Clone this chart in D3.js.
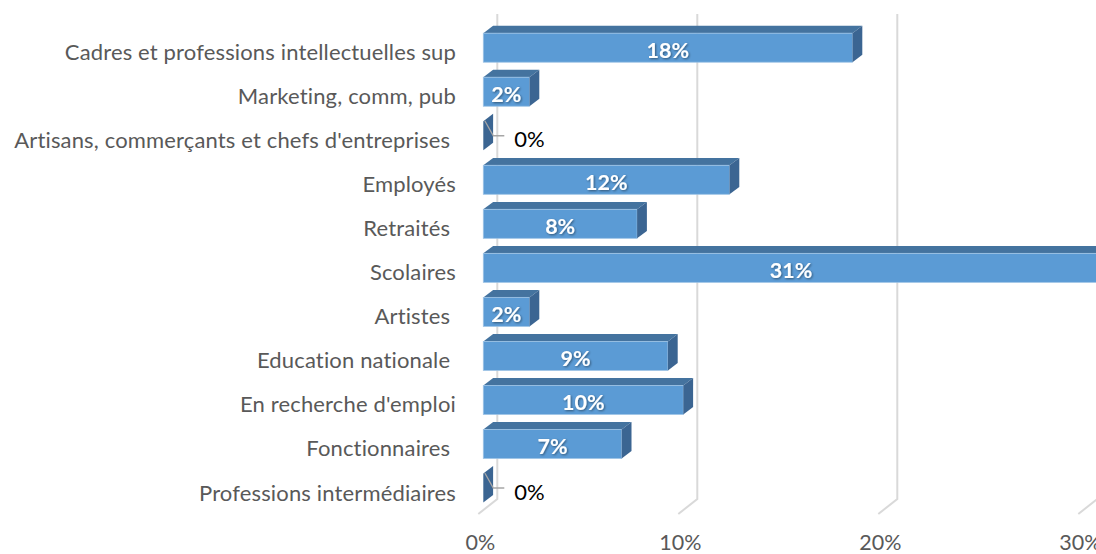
<!DOCTYPE html>
<html><head><meta charset="utf-8">
<script src="https://cdn.jsdelivr.net/npm/d3@7"></script>
<style>body{margin:0;background:#fff}svg{display:block}text{font-family:Lato,"Open Sans",sans-serif}</style>
</head><body>
<script>
const categories = [
  "Cadres et professions intellectuelles sup",
  "Marketing, comm, pub",
  "Artisans, commerçants et chefs d'entreprises ",
  "Employés",
  "Retraités ",
  "Scolaires",
  "Artistes ",
  "Education nationale ",
  "En recherche d'emploi",
  "Fonctionnaires ",
  "Professions intermédiaires"
];
const values = [18.46, 2.31, 0, 12.31, 7.69, 30.77, 2.31, 9.23, 10.0, 6.92, 0];
const dataLabels = ["18%","2%","0%","12%","8%","31%","2%","9%","10%","7%","0%"];
const tickValues = [0, 10, 20, 30];
const tickLabels = ["0%","10%","20%","30%"];

const W = 1096, H = 554;
const svg = d3.select("body").append("svg").attr("width", W).attr("height", H);

const x = d3.scaleLinear().domain([0, 30]).range([483.3, 1083.3]);
const y = d3.scalePoint().domain(categories).range([47.7, 488]);
const faceH = 29, dx = 9.8, dy = -7.4;
const wallDX = 14, wallTop = 14, wallBottom = 499, floorDX = -19, floorDY = 15;

// gridlines (back wall + floor)
const grid = svg.append("g");
tickValues.forEach(v => {
  const gx = x(v) + wallDX;
  grid.append("path")
    .attr("d", `M${gx},${wallTop}L${gx},${wallBottom}L${gx + floorDX},${wallBottom + floorDY}`)
    .attr("fill", "none").attr("stroke", "#d9d9d9").attr("stroke-width", 2);
});

// tick labels
svg.append("g").selectAll("text").data(tickValues).join("text")
  .attr("x", (d) => x(d) - 3).attr("y", 542)
  .attr("text-anchor", "middle").attr("dominant-baseline", "central")
  .attr("fill", "#595959").attr("font-size", 21.5)
  .text((d, i) => tickLabels[i]);

// category labels
svg.append("g").selectAll("text").data(categories).join("text")
  .attr("x", 456).attr("y", d => y(d) + 4)
  .attr("text-anchor", "end").attr("dominant-baseline", "central")
  .attr("fill", "#595959").attr("font-size", 22).attr("letter-spacing", 0.15)
  .style("white-space", "pre")
  .text(d => d);

// bars
const bars = svg.append("g");
categories.forEach((c, i) => {
  const v = values[i];
  const x0 = x(0), x1 = x(v);
  const top = y(c) - faceH / 2, bot = y(c) + faceH / 2;
  const g = bars.append("g");
  if (v > 0) {
    g.append("path")
      .attr("d", `M${x0},${top}L${x0 + dx},${top + dy}L${x1 + dx},${top + dy}L${x1},${top}Z`)
      .attr("fill", "#44739f");
    g.append("rect").attr("x", x0).attr("y", top).attr("width", x1 - x0).attr("height", faceH)
      .attr("fill", "#5b9bd5").attr("stroke", "#9cc2e5").attr("stroke-width", 0.8);
  }
  g.append("path")
    .attr("d", `M${x1},${top}L${x1 + dx},${top + dy}L${x1 + dx},${bot + dy}L${x1},${bot}Z`)
    .attr("fill", "#3b6592");
});

// data labels
const defs = svg.append("defs");
defs.append("filter").attr("id", "sh").attr("x", "-20%").attr("y", "-20%").attr("width", "140%").attr("height", "140%")
  .append("feDropShadow").attr("dx", 1).attr("dy", 1).attr("stdDeviation", 0.8)
  .attr("flood-color", "#000").attr("flood-opacity", 0.45);

categories.forEach((c, i) => {
  const v = values[i];
  const cy = y(c);
  if (v > 0) {
    svg.append("text")
      .attr("x", (x(0) + x(v)) / 2).attr("y", cy + 2)
      .attr("text-anchor", "middle").attr("dominant-baseline", "central")
      .attr("fill", "#fff").attr("font-weight", "bold").attr("font-size", 21.5)
      .attr("filter", "url(#sh)")
      .text(dataLabels[i]);
  } else {
    const x0 = x(0);
    svg.append("path")
      .attr("d", `M${x0 + 1.5},${cy - 15}L${x0 + 10},${cy}L${x0 + 21},${cy}`)
      .attr("fill", "none").attr("stroke", "#a6a6a6").attr("stroke-width", 1.3);
    svg.append("text")
      .attr("x", x0 + 31).attr("y", cy + 3)
      .attr("dominant-baseline", "central")
      .attr("fill", "#000").attr("font-size", 22)
      .text(dataLabels[i]);
  }
});
</script>
</body></html>
